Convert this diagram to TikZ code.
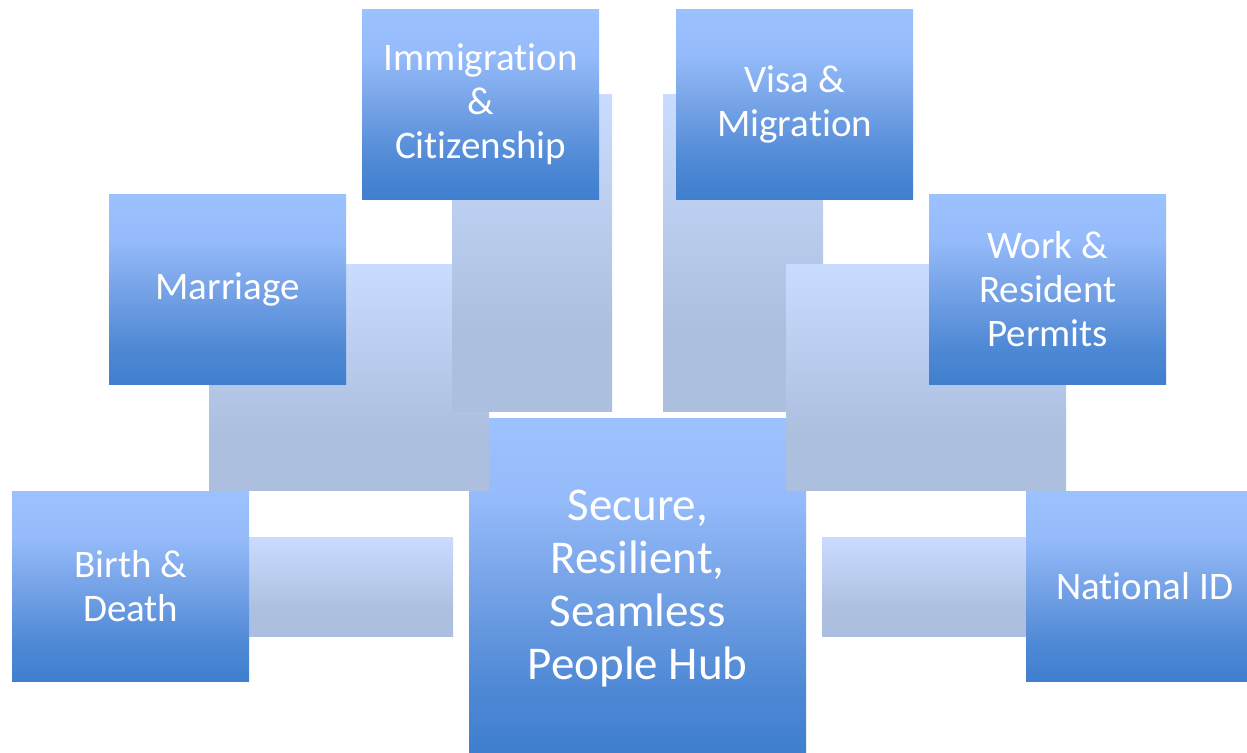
\documentclass[tikz,border=0pt]{standalone}
\usepackage{fontspec}
\setmainfont{Carlito}[RawFeature={-liga;-clig;-calt;-dlig;-rlig}]
\definecolor{btop}{HTML}{9CC1FF}
\definecolor{bq1}{HTML}{95BBFA}
\definecolor{bmid}{HTML}{76A3E7}
\definecolor{bq3}{HTML}{4F89D5}
\definecolor{bbot}{HTML}{3F7FCE}
\definecolor{ctop}{HTML}{C9DCFF}
\definecolor{cmid}{HTML}{BBCDEE}
\definecolor{cbot}{HTML}{ADBFDF}
\pgfdeclareverticalshading{boxshade}{100bp}{color(0bp)=(bbot); color(25bp)=(bbot); color(35bp)=(bq3); color(50bp)=(bmid); color(63bp)=(bq1); color(75bp)=(btop); color(100bp)=(btop)}
\pgfdeclareverticalshading{connshade}{100bp}{color(0bp)=(cbot); color(25bp)=(cbot); color(38bp)=(cbot); color(55bp)=(cmid); color(75bp)=(ctop); color(100bp)=(ctop)}
\newcommand{\nolig}{\kern0pt}
\tikzset{
  box/.style={shade, shading=boxshade, draw=none, anchor=north west, inner sep=0pt,
    minimum width=237pt, minimum height=190pt, text=white, align=center,
    font=\fontsize{39}{44}\selectfont},
  hubbox/.style={box, minimum width=337pt, minimum height=334pt},
  hubtext/.style={text=white, align=center, inner sep=0pt,
    font=\fontsize{47}{53}\selectfont},
  conn/.style={shade, shading=connshade, draw=none, anchor=north west, inner sep=0pt}
}
\begin{document}
\begin{tikzpicture}[x=1pt,y=-1pt]
\useasboundingbox (0,0) rectangle (1247,752);
\clip (0,0) rectangle (1247,752);
% hub
\node[hubbox] (hub) at (469,418) {};
\node[hubtext] (hubtxt) at ([yshift=-3pt]hub.center) {Secure,\\Resilient,\\Seamless\\People Hub};
% connectors
\node[conn, minimum width=204pt, minimum height=99pt] (cbirth) at (249,537) {};
\node[conn, minimum width=280pt, minimum height=226pt] (cmarriage) at (209,264) {};
\node[conn, minimum width=160pt, minimum height=317pt] (cimm) at (452,94) {};
\node[conn, minimum width=160pt, minimum height=317pt] (cvisa) at (663,94) {};
\node[conn, minimum width=280pt, minimum height=226pt] (cwork) at (786,264) {};
\node[conn, minimum width=204pt, minimum height=99pt] (cnat) at (822,537) {};
% outer boxes
\node[box] (birth) at (12,491) {Birth \&\\Death};
\node[box] (marriage) at (109,194) {Marriage};
\node[box] (imm) at (362,9) {Immigrat\nolig ion\\\&\\Citizenship};
\node[box] (visa) at (676,9) {Visa \&\\Migrat\nolig ion};
\node[box] (work) at (929,194) {Work \&\\Resident\\Permits};
\node[box] (natid) at (1026,491) {Nat\nolig ional ID};
\end{tikzpicture}
\end{document}
